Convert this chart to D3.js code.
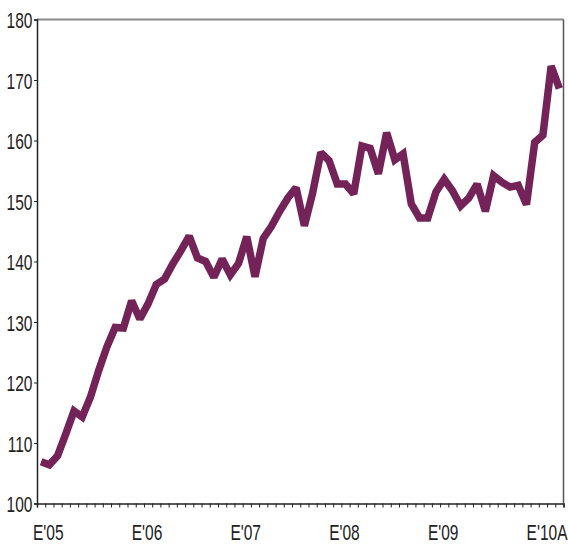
<!DOCTYPE html>
<html>
<head>
<meta charset="utf-8">
<script src="https://cdn.jsdelivr.net/npm/d3@7"></script>
<style>
  html, body { margin: 0; padding: 0; background: #fff; }
  svg { display: block; }
  text { font-family: "Liberation Sans", Arial, sans-serif; fill: #222; }
</style>
</head>
<body>
<svg id="chart" width="568" height="546"></svg>
<script>
// Monthly index, Jan 2005 .. Apr 2010
const values = [
  106.9, 106.4, 107.9, 111.5, 115.3, 114.3, 117.6, 122.0, 125.9, 129.1, 129.0, 133.5,
  130.5, 133.0, 136.2, 137.1, 139.6, 141.8, 144.2, 140.6, 140.0, 137.4, 140.4, 137.8,
  139.7, 144.1, 137.5, 143.8, 145.8, 148.3, 150.5, 152.2, 145.9, 151.3, 158.0, 156.7,
  152.8, 152.8, 151.2, 159.1, 158.7, 154.5, 161.3, 156.8, 157.8, 149.5, 147.2, 147.2,
  151.5, 153.6, 151.7, 149.2, 150.5, 152.8, 148.3, 154.2, 153.1, 152.3, 152.6, 149.4,
  159.7, 160.9, 172.3, 168.6
];
const xLabels = ["E'05", "E'06", "E'07", "E'08", "E'09", "E'10A"];
const yTicks = [100, 110, 120, 130, 140, 150, 160, 170, 180];

const svg = d3.select("#chart");
const mLeft = 37, mRight = 563.5, mTop = 19.5, mBottom = 503.5;
const squeeze = 0.69;
const fontSize = 22.5;

const x = d3.scaleLinear().domain([-0.5, values.length - 0.5]).range([mLeft, mRight]);
const y = d3.scaleLinear().domain([100, 180]).range([mBottom, mTop]);

// frame: top and right borders
svg.append("line").attr("x1", mLeft).attr("x2", mRight).attr("y1", mTop).attr("y2", mTop)
  .attr("stroke", "#8a8a8a").attr("stroke-width", 2);
svg.append("line").attr("x1", mRight).attr("x2", mRight).attr("y1", mTop).attr("y2", mBottom)
  .attr("stroke", "#555").attr("stroke-width", 1.5);

// Y axis
const yAxis = d3.axisLeft(y).tickValues(yTicks).tickSize(3);
const gy = svg.append("g").attr("transform", `translate(${mLeft},0)`).call(yAxis);
gy.select(".domain").attr("stroke", "#222").attr("stroke-width", 1.5);
gy.selectAll(".tick line").attr("stroke", "#222");
gy.selectAll("text")
  .attr("x", 0)
  .attr("transform", `translate(-4.5,0) scale(${squeeze},1)`)
  .attr("font-size", fontSize).attr("font-family", null).attr("fill", "#222")
  .attr("dy", "0.36em");

// X axis with monthly ticks at band boundaries
const boundaries = d3.range(values.length + 1).map(i => i - 0.5);
const xAxis = d3.axisBottom(x).tickValues(boundaries).tickSize(4).tickFormat("");
const gx = svg.append("g").attr("transform", `translate(0,${mBottom})`).call(xAxis);
gx.select(".domain").attr("stroke", "#222").attr("stroke-width", 1.5);
gx.selectAll(".tick line").attr("stroke", "#222");

// Year labels, start-anchored near each January boundary
svg.append("g").selectAll("text").data(xLabels).join("text")
  .attr("transform", (d, i) => `translate(${x(i * 12 - 0.5) - 4},${mBottom + 36}) scale(${squeeze},1)`)
  .attr("text-anchor", "start")
  .attr("font-size", fontSize)
  .text(d => d);

// Line
const line = d3.line().x((d, i) => x(i)).y(d => y(d));
svg.append("path").datum(values)
  .attr("d", line)
  .attr("fill", "none")
  .attr("stroke", "#742359")
  .attr("stroke-width", 7.5)
  .attr("stroke-linejoin", "miter")
  .attr("stroke-miterlimit", 2)
  .attr("stroke-linecap", "butt");
</script>
</body>
</html>
